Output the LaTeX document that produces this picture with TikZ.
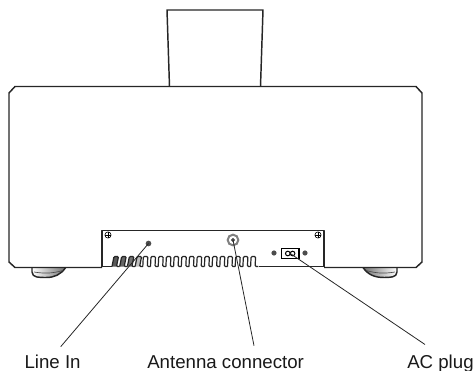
\documentclass[tikz,border=0pt]{standalone}
\usepackage{fontspec}
\setmainfont{Liberation Sans}
\tikzstyle{screwdot}=[shape=circle,minimum size=4.6pt,inner sep=0,draw,line width=.45pt,fill=white]
\tikzstyle{portdot}=[shape=circle,minimum size=3.8pt,inner sep=0,fill=black!70,draw=black!70]
\tikzstyle{antring}=[shape=circle,minimum size=8pt,inner sep=0,draw=black!50,line width=1.5pt,fill=white]
\tikzstyle{plugbox}=[rectangle,minimum width=13pt,minimum height=7.5pt,inner sep=0,draw=black,line width=.95pt,fill=white]
\tikzstyle{leader}=[line width=.6pt,black!85]
\tikzstyle{caption}=[anchor=base west,inner sep=0,font=\fontsize{14}{14}\selectfont,text=black!90]
\tikzstyle{outline}=[line width=1.1pt,black!85,line join=round]
\tikzstyle{thinline}=[line width=.85pt,black!85,line join=round]
\tikzstyle{tooth}=[line width=.9pt,black!85,rounded corners=.8pt]
\begin{document}
\begin{tikzpicture}[x=.75pt,y=-.75pt]
\useasboundingbox (0,0) rectangle (475,371);

\draw[outline,left color=white,middle color=white,right color=black!55] (32,267.5)--(32,272)to[out=-90,in=180](46,277.5)to[out=0,in=-125](65.7,267.5);
\draw[outline,left color=black!55,middle color=white,right color=white] (363,267.5)to[out=-55,in=180](384,277.5)to[out=0,in=-90](397,272)--(397,267.5);
\draw[line width=.5pt,black!70] (34,272)to[bend right=12](63,270.5);
\draw[line width=.5pt,black!70] (366,270.5)to[bend right=12](395,272);

\draw[outline] (169.5,86.5)--(167,10)--(263,10)--(260.5,86.5);
\draw[outline,fill=white] (102,267.5)--(15,267.5)--(9,262)--(9,93)--(15,86.5)--(416,86.5)--(422,93)--(422,262)--(416,267.5)--(324,267.5);
\draw[thinline,fill=white] (102,267)--(102,230.7)--(324,230.7)--(324,267);
\draw[thinline] (102,266.5)--(112,266.5);
\draw[thinline] (259,266.5)--(324,266.5);

\foreach \x/\c in {0/65,1/60,2/55,3/25}{
	\draw[tooth,fill=black!\c] (112+\x*7.7,266.5)--(114+\x*7.7,256.5)--(118.5+\x*7.7,256.5)--(116.5+\x*7.7,266.5)--(119.7+\x*7.7,266.5);}
\foreach \x in {4,...,18}{
	\draw[tooth] (112+\x*7.7,266.5)--(112.5+\x*7.7,256.5)--(117+\x*7.7,256.5)--(116.5+\x*7.7,266.5)--(119.7+\x*7.7,266.5);}

\foreach \n/\x/\y in {screwa/108/235,screwb/318/235}{
	\node[screwdot] (\n) at (\x,\y) {};
	\draw[line width=.4pt] (\n.north)--(\n.south) (\n.west)--(\n.east);}
\node[portdot] (linein) at (148.5,243.5) {};
\node[antring] (antenna) at (233,240) {};
\node[portdot,minimum size=2.6pt] (antpin) at (233,240) {};
\node[portdot,minimum size=3.4pt] (plugscrewa) at (274,253) {};
\node[portdot,minimum size=3.4pt] (plugscrewb) at (305,253) {};
\node[plugbox] (plug) at (290.2,253.5) {};
\draw[line width=.75pt] (287.8,253.5) circle (2.3);
\draw[line width=.75pt] (292.6,253.5) circle (2.3);

\node[caption] (lineinlabel) at (24.3,368) {Line In};
\node[caption] (antennalabel) at (147,368) {Antenna connector};
\node[caption] (pluglabel) at (407,368) {AC plug};
\coordinate (lineinend) at (60.7,346.7);
\coordinate (antennaend) at (254,345.7);
\coordinate (plugend) at (425,344.5);
\draw[leader] (linein.center)--(lineinend);
\draw[leader] (antpin.center)--(antennaend);
\draw[leader] (plug.center)--(plugend);
\end{tikzpicture}
\end{document}
